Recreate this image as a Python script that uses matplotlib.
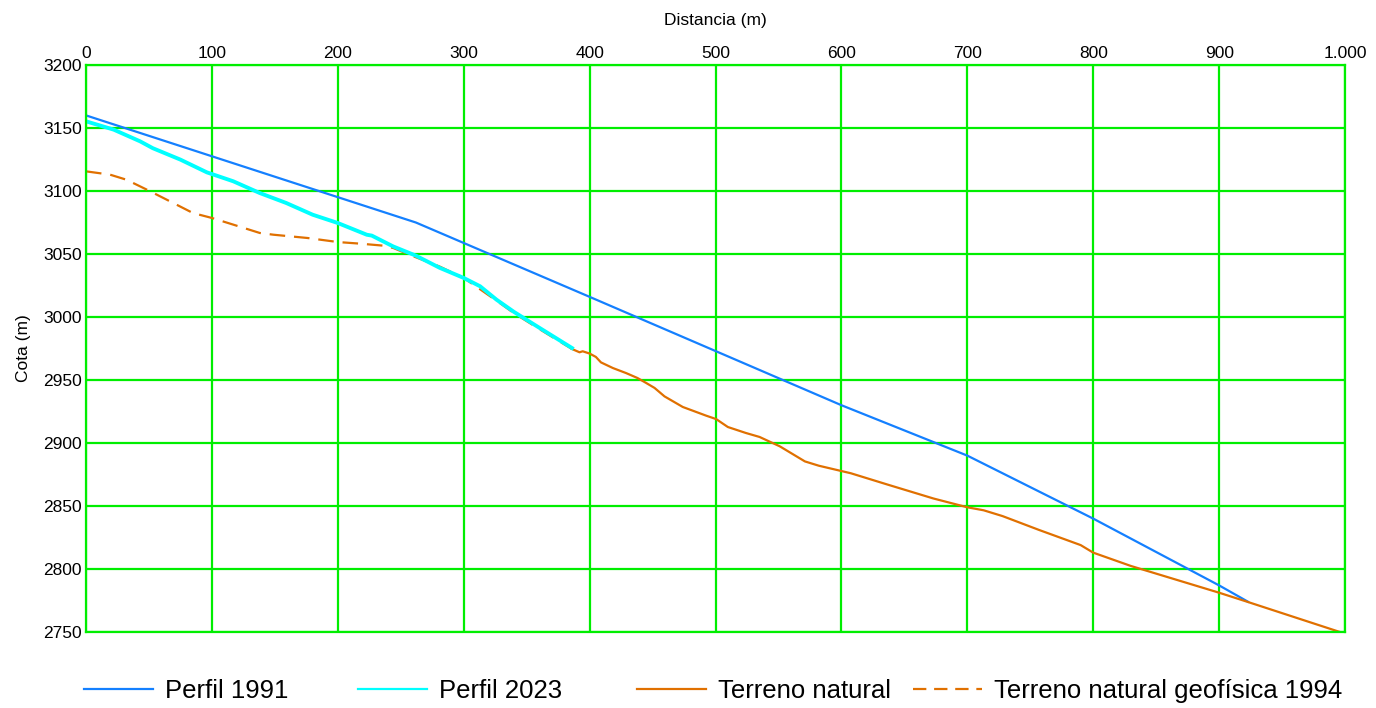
import matplotlib.pyplot as plt
from matplotlib.ticker import FuncFormatter

plt.rcParams['font.family'] = ['Liberation Sans', 'DejaVu Sans']

# Perfil 1991
d_1991 = [0, 262, 400, 500, 600, 700, 768, 800, 900, 923]
z_1991 = [3160, 3075, 3016, 2973, 2930, 2890, 2856, 2840, 2787, 2774]

# Perfil 2023
d_2023 = [0, 22, 43, 53, 75, 96, 117, 138, 159, 180, 200, 223, 227, 244, 262,
          281, 300, 313, 326, 340, 360, 386]
z_2023 = [3155.3, 3148.7, 3139.4, 3134, 3124.9, 3114.8, 3107.7, 3098.4, 3090.5,
          3081.2, 3074.6, 3065.3, 3064.6, 3056, 3048.7, 3039, 3031, 3024.4,
          3013.8, 3004, 2991.5, 2975.4]

# Terreno natural
d_terr = [386, 392, 394.5, 400, 405, 409, 418.5, 429, 438, 445, 451.6, 459.5,
          474, 492.6, 500.5, 509.8, 524, 535, 551, 571, 582, 607.5, 636.7, 673,
          700, 713, 728, 757, 790, 800, 830, 900, 923, 996]
z_terr = [2974.6, 2972, 2972.8, 2971, 2968.3, 2964, 2959.5, 2955.5, 2951.6,
          2947.6, 2943.7, 2937, 2928.6, 2921.7, 2919, 2912.7, 2908, 2904.8,
          2897.4, 2885.4, 2882, 2876, 2867, 2856, 2849, 2846.6, 2842, 2831,
          2819, 2813, 2802.4, 2781.2, 2773.8, 2750]

# Terreno natural geofisica 1994
d_geo = [0, 19, 32, 49.5, 66.7, 85, 100, 117, 138, 149, 176, 200, 218, 236.5,
         244, 260, 281, 300, 311.6, 326, 340, 360, 386]
z_geo = [3115.6, 3113, 3109, 3100.5, 3091.8, 3082.5, 3078.6, 3073.3, 3066.7,
         3065.3, 3062.7, 3059.5, 3058.2, 3056.6, 3054.8, 3048.2, 3040, 3031,
         3023, 3013, 3003, 2990.5, 2974.6]

x_ticks = list(range(0, 1001, 100))
y_ticks = list(range(2750, 3201, 50))

c_1991 = '#1480ff'
c_2023 = '#00ffff'
c_terr = '#e07000'
c_grid = '#00ee00'

fig = plt.figure(figsize=(13.76, 7.08), dpi=100)
ax = fig.add_axes([0.0625, 0.1073, 0.9150, 0.8009])

l1, = ax.plot(d_1991, z_1991, color=c_1991, lw=1.6, label='Perfil 1991')
l4, = ax.plot(d_geo, z_geo, color=c_terr, lw=1.6, dashes=(7, 4),
              label='Terreno natural geofísica 1994')
l3, = ax.plot(d_terr, z_terr, color=c_terr, lw=1.6, label='Terreno natural')
l2, = ax.plot(d_2023, z_2023, color=c_2023, lw=2.8, label='Perfil 2023')

ax.set_xlim(0, 1000)
ax.set_ylim(2750, 3200)
ax.set_xticks(x_ticks)
ax.set_yticks(y_ticks)
ax.xaxis.set_major_formatter(FuncFormatter(
    lambda v, p: f'{int(v):,}'.replace(',', '.')))
ax.xaxis.tick_top()
ax.xaxis.set_label_position('top')
ax.tick_params(length=0, labelsize=12.5, pad=3)
ax.set_xlabel('Distancia (m)', fontsize=12.5, labelpad=15)
ax.set_ylabel('Cota (m)', fontsize=12.5, labelpad=9)
ax.grid(True, color=c_grid, lw=1.6, zorder=0)
ax.set_axisbelow(True)
for s in ax.spines.values():
    s.set_color(c_grid)
    s.set_linewidth(1.6)

# legend entries spread evenly along the bottom
for h, x0 in zip([l1, l2, l3, l4], [84, 358, 637, 913]):
    leg = fig.legend(handles=[h], loc='center left',
                     bbox_to_anchor=(x0 / 1376, 1 - 691 / 708),
                     frameon=False, fontsize=18.5, handlelength=2.7,
                     handletextpad=0.45, borderpad=0, borderaxespad=0)
    for ln in leg.get_lines():
        ln.set_linewidth(1.6)
        if ln.get_linestyle() == '--':
            ln.set_dashes((6, 3.5))

fig.savefig('out.png', dpi=100)
